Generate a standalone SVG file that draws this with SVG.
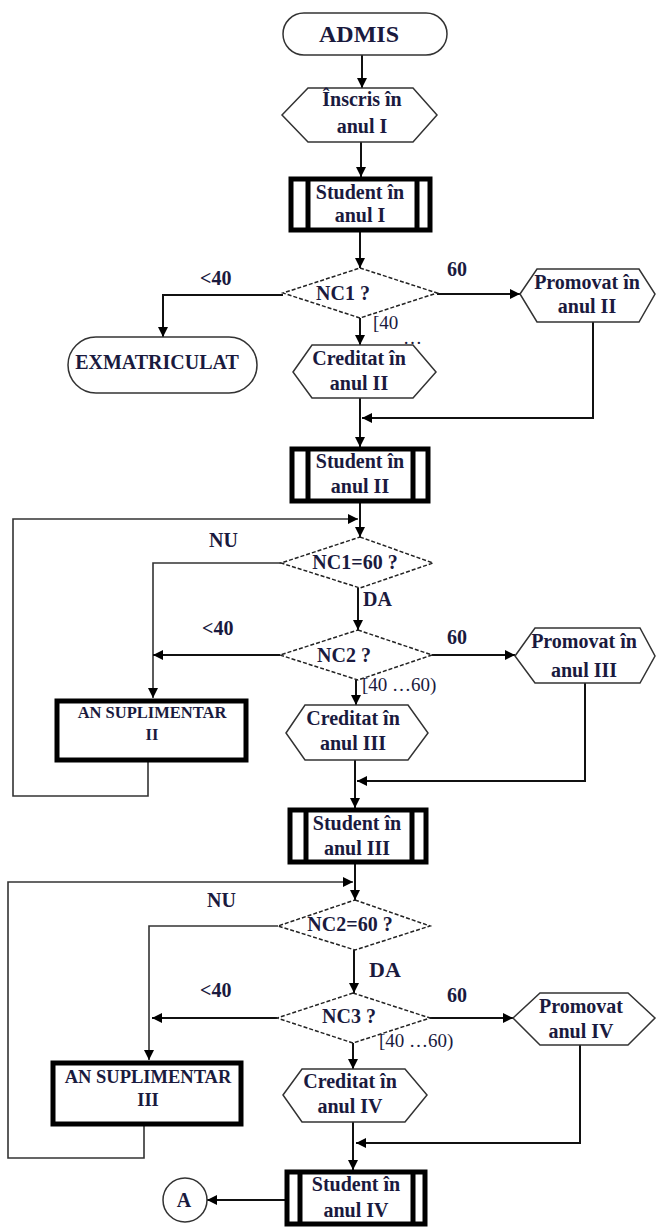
<svg xmlns="http://www.w3.org/2000/svg" width="657" height="1227" viewBox="0 0 657 1227">
<style>
.t{font-family:"Liberation Serif","Times New Roman",serif;font-weight:bold;fill:#1a1a3e;font-size:20px;text-anchor:middle}
.l{font-family:"Liberation Serif","Times New Roman",serif;font-weight:bold;fill:#1a1a3e;font-size:20px}
.r{font-family:"Liberation Serif","Times New Roman",serif;fill:#1a1a3e;font-size:19px}
.o{fill:#fff;stroke:#333;stroke-width:1.5}
.d{fill:#fff;stroke:#222;stroke-width:1.5;stroke-dasharray:4,2}
.b{fill:#fff;stroke:#000;stroke-width:5}
.bar{stroke:#000;stroke-width:5}
.c{fill:none;stroke:#111;stroke-width:2}
.c2{fill:none;stroke:#333;stroke-width:1.6}
</style>
<defs>
<marker id="ah" viewBox="0 0 10 10" refX="10" refY="5" markerWidth="10" markerHeight="10" markerUnits="userSpaceOnUse" orient="auto"><path d="M0,0 L10,5 L0,10 z" fill="#000"/></marker>
</defs>

<g id="connectors">
<line class="c" x1="362" y1="55" x2="362" y2="88" marker-end="url(#ah)"/>
<line class="c" x1="361" y1="142" x2="361" y2="177" marker-end="url(#ah)"/>
<line class="c" x1="360" y1="232" x2="360" y2="268" marker-end="url(#ah)"/>
<polyline class="c" points="283,295 163,295 163,337" marker-end="url(#ah)"/>
<line class="c" x1="437" y1="294" x2="520" y2="294" marker-end="url(#ah)"/>
<line class="c" x1="360" y1="318" x2="360" y2="345" marker-end="url(#ah)"/>
<polyline class="c" points="593,322 593,418 362,418" marker-end="url(#ah)"/>
<line class="c" x1="360" y1="398" x2="360" y2="447" marker-end="url(#ah)"/>
<line class="c" x1="360" y1="503" x2="360" y2="537" marker-end="url(#ah)"/>
<polyline class="c2" points="148,762 148,796 13,796 13,519 358,519" marker-end="url(#ah)"/>
<polyline class="c2" points="281,563 153,563 153,698" marker-end="url(#ah)"/>
<line class="c" x1="358" y1="588" x2="358" y2="630" marker-end="url(#ah)"/>
<line class="c" x1="280" y1="655" x2="153" y2="655" marker-end="url(#ah)"/>
<line class="c" x1="432" y1="655" x2="515" y2="655" marker-end="url(#ah)"/>
<polyline class="c" points="585,683 585,781 357,781" marker-end="url(#ah)"/>
<line class="c" x1="356" y1="680" x2="356" y2="705" marker-end="url(#ah)"/>
<line class="c" x1="355" y1="760" x2="355" y2="808" marker-end="url(#ah)"/>
<line class="c" x1="355" y1="864" x2="355" y2="900" marker-end="url(#ah)"/>
<polyline class="c2" points="144,1126 144,1158 8,1158 8,882 353,882" marker-end="url(#ah)"/>
<polyline class="c2" points="278,926 149,926 149,1060" marker-end="url(#ah)"/>
<line class="c" x1="354" y1="950" x2="354" y2="993" marker-end="url(#ah)"/>
<line class="c" x1="277" y1="1018" x2="152" y2="1018" marker-end="url(#ah)"/>
<line class="c" x1="430" y1="1018" x2="513" y2="1018" marker-end="url(#ah)"/>
<polyline class="c" points="580,1045 580,1143 356,1143" marker-end="url(#ah)"/>
<line class="c" x1="353" y1="1043" x2="353" y2="1069" marker-end="url(#ah)"/>
<line class="c" x1="353" y1="1122" x2="353" y2="1170" marker-end="url(#ah)"/>
<line class="c" x1="285" y1="1200" x2="207" y2="1200" marker-end="url(#ah)"/>
</g>

<g id="labels">
<text class="l" x="200" y="285">&lt;40</text>
<text class="l" x="447" y="276">60</text>
<text class="r" x="373" y="329">[40</text>
<text class="r" x="403" y="344">…</text>
<text class="l" x="209" y="547">NU</text>
<text class="l" x="363" y="606">DA</text>
<text class="l" x="202" y="635">&lt;40</text>
<text class="l" x="447" y="644">60</text>
<text class="r" x="362" y="691">[40 …60)</text>
<text class="l" x="207" y="907">NU</text>
<text class="l" x="369" y="977" style="font-size:22px">DA</text>
<text class="l" x="200" y="997">&lt;40</text>
<text class="l" x="447" y="1002">60</text>
<text class="r" x="379" y="1047">[40 …60)</text>
</g>

<g id="admis">
<rect class="o" x="283" y="13" width="164" height="42" rx="21"/>
<text class="t" x="359" y="42" style="font-size:24px">ADMIS</text>
</g>

<g id="inscris">
<polygon class="o" points="282,115 308,88 413,88 437,115 413,142 308,142"/>
<text class="t" x="362" y="106">Înscris în</text>
<text class="t" x="362" y="133">anul I</text>
</g>

<g id="student1">
<rect class="b" x="291" y="179" width="139" height="51"/>
<line class="bar" x1="308" y1="179" x2="308" y2="230"/>
<line class="bar" x1="417" y1="179" x2="417" y2="230"/>
<text class="t" x="360" y="199">Student în</text>
<text class="t" x="360" y="222">anul I</text>
</g>

<g id="nc1">
<polygon class="d" points="360,268 437,293 360,318 283,293"/>
<text class="t" x="343" y="300">NC1 ?</text>
</g>

<g id="exmatriculat">
<rect class="o" x="68" y="337" width="189" height="56" rx="28"/>
<text class="t" x="157" y="369">EXMATRICULAT</text>
</g>

<g id="promovat2">
<polygon class="o" points="520,294 537,269 639,269 655,294 639,322 537,322"/>
<text class="t" x="587" y="289">Promovat în</text>
<text class="t" x="587" y="313">anul II</text>
</g>

<g id="creditat2">
<polygon class="o" points="293,372 312,345 413,345 436,372 413,398 312,398"/>
<text class="t" x="359" y="365">Creditat în</text>
<text class="t" x="359" y="390">anul II</text>
</g>

<g id="student2">
<rect class="b" x="292" y="449" width="136" height="52"/>
<line class="bar" x1="308" y1="449" x2="308" y2="501"/>
<line class="bar" x1="413" y1="449" x2="413" y2="501"/>
<text class="t" x="360" y="468">Student în</text>
<text class="t" x="360" y="493">anul II</text>
</g>

<g id="nc1_60">
<polygon class="d" points="360,537 433,563 360,588 281,563"/>
<text class="t" x="355" y="569">NC1=60 ?</text>
</g>

<g id="nc2">
<polygon class="d" points="358,630 432,655 358,680 280,655"/>
<text class="t" x="344" y="662">NC2 ?</text>
</g>

<g id="promovat3">
<polygon class="o" points="515,656 535,628 640,628 655,656 640,683 535,683"/>
<text class="t" x="584" y="648">Promovat în</text>
<text class="t" x="584" y="677">anul III</text>
</g>

<g id="creditat3">
<polygon class="o" points="286,733 305,705 408,705 428,733 408,760 305,760"/>
<text class="t" x="353" y="725">Creditat în</text>
<text class="t" x="353" y="750">anul III</text>
</g>

<g id="ansupl2">
<rect class="b" x="57" y="701" width="189" height="59"/>
<text class="t" x="152" y="718" style="font-size:16.5px">AN SUPLIMENTAR</text>
<text class="t" x="152" y="740" style="font-size:16.5px">II</text>
</g>

<g id="student3">
<rect class="b" x="290" y="810" width="136" height="52"/>
<line class="bar" x1="306" y1="810" x2="306" y2="862"/>
<line class="bar" x1="412" y1="810" x2="412" y2="862"/>
<text class="t" x="357" y="830">Student în</text>
<text class="t" x="357" y="855">anul III</text>
</g>

<g id="nc2_60">
<polygon class="d" points="355,900 430,926 355,950 278,926"/>
<text class="t" x="350" y="931">NC2=60 ?</text>
</g>

<g id="nc3">
<polygon class="d" points="353,993 430,1018 353,1043 277,1018"/>
<text class="t" x="349" y="1023">NC3 ?</text>
</g>

<g id="promovat4">
<polygon class="o" points="513,1018 540,993 628,993 655,1018 628,1045 540,1045"/>
<text class="t" x="581" y="1013">Promovat</text>
<text class="t" x="581" y="1038">anul IV</text>
</g>

<g id="creditat4">
<polygon class="o" points="283,1095 302,1069 405,1069 427,1095 405,1122 302,1122"/>
<text class="t" x="350" y="1088">Creditat în</text>
<text class="t" x="350" y="1113">anul IV</text>
</g>

<g id="ansupl3">
<rect class="b" x="53" y="1063" width="188" height="61"/>
<text class="t" x="148" y="1083" style="font-size:18.5px">AN SUPLIMENTAR</text>
<text class="t" x="148" y="1106" style="font-size:18.5px">III</text>
</g>

<g id="student4">
<rect class="b" x="287" y="1172" width="138" height="52"/>
<line class="bar" x1="300" y1="1172" x2="300" y2="1224"/>
<line class="bar" x1="413" y1="1172" x2="413" y2="1224"/>
<text class="t" x="356" y="1191">Student în</text>
<text class="t" x="356" y="1217">anul IV</text>
</g>

<g id="connectorA">
<circle class="o" cx="185" cy="1200" r="22"/>
<text class="t" x="184" y="1207">A</text>
</g>
</svg>
